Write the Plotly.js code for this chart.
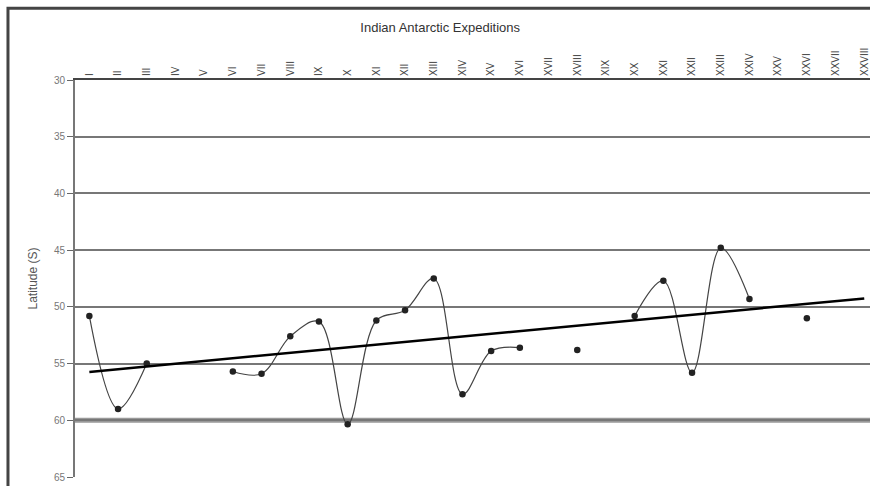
<!DOCTYPE html>
<html>
<head>
<meta charset="utf-8">
<script src="https://cdn.plot.ly/plotly-3.0.1.min.js"></script>
<style>
  html, body { margin: 0; padding: 0; background: #fff; overflow: hidden; }
  #chart { position: absolute; left: 0; top: 0; width: 870px; height: 486px; }
</style>
</head>
<body>
<div id="chart"></div>
<script>
const expeditions = ["I","II","III","IV","V","VI","VII","VIII","IX","X","XI","XII","XIII","XIV",
  "XV","XVI","XVII","XVIII","XIX","XX","XXI","XXII","XXIII","XXIV","XXV","XXVI","XXVII","XXVIII"];
const latitudes = [50.8, 59.0, 55.0, null, null, 55.7, 55.9, 52.6, 51.3, 60.35, 51.2, 50.3, 47.5, 57.7,
  53.9, 53.6, null, 53.8, null, 50.8, 47.7, 55.8, 44.8, 49.3, null, 51.0, null, null];
const yTicks = [30, 35, 40, 45, 50, 55, 60, 65];
const referenceLat = 60;

// linear trend (least squares over the observed expeditions, by expedition number)
const xs = [], ys = [];
latitudes.forEach((v, i) => { if (v !== null) { xs.push(i + 1); ys.push(v); } });
const n = xs.length;
const mx = xs.reduce((a, b) => a + b, 0) / n;
const my = ys.reduce((a, b) => a + b, 0) / n;
let sxy = 0, sxx = 0;
for (let i = 0; i < n; i++) { sxy += (xs[i] - mx) * (ys[i] - my); sxx += (xs[i] - mx) ** 2; }
const slope = sxy / sxx, intercept = my - slope * mx;
const trendX = [expeditions[0], expeditions[expeditions.length - 1]];
const trendY = [intercept + slope * 1, intercept + slope * expeditions.length];

const font = 'Arial, "Liberation Sans", sans-serif';

const data = [
  {
    x: expeditions, y: latitudes, type: 'scatter', mode: 'lines+markers',
    connectgaps: false, cliponaxis: false,
    line: { color: '#444', width: 1.2, shape: 'spline', smoothing: 1 },
    marker: { color: '#222', size: 6.5, symbol: 'circle' },
    showlegend: false
  },
  {
    x: trendX, y: trendY, type: 'scatter', mode: 'lines',
    line: { color: '#000', width: 2.5 }, hoverinfo: 'skip', showlegend: false
  }
];

const layout = {
  width: 870, height: 486,
  margin: { l: 75, r: 0, t: 79.5, b: 9 },
  paper_bgcolor: '#fff', plot_bgcolor: '#fff',
  title: {
    text: 'Indian Antarctic Expeditions',
    x: 0.506, xref: 'container', y: 0.944, yref: 'container', yanchor: 'middle',
    font: { family: font, size: 13, color: '#333' }
  },
  xaxis: {
    type: 'category', categoryorder: 'array', categoryarray: expeditions,
    side: 'top', range: [-0.5, 27.2],
    tickangle: -90, tickfont: { family: font, size: 10, color: '#444' },
    showgrid: false, showline: true, linecolor: '#444', linewidth: 2,
    ticks: '', zeroline: false
  },
  yaxis: {
    range: [65, 30], tickvals: yTicks,
    tickfont: { family: font, size: 10, color: '#777' },
    ticks: 'outside', ticklen: 6, tickcolor: '#666', tickwidth: 1,
    showline: true, linecolor: '#777', linewidth: 2,
    showgrid: true, gridcolor: '#777', gridwidth: 2, zeroline: false,
    title: { text: 'Latitude (S)', standoff: 14,
      font: { family: font, size: 12, color: '#555' } }
  },
  shapes: [
    { type: 'line', xref: 'paper', x0: 0, x1: 1, yref: 'y', y0: referenceLat, y1: referenceLat,
      line: { color: '#999', width: 5 }, layer: 'below' },
    // outer chart frame (left and top edges of the chart area)
    { type: 'path', xref: 'paper', yref: 'paper',
      path: 'M -0.0843,-0.1 L -0.0843,1.181 L 1.1,1.181',
      line: { color: '#444', width: 3 }, layer: 'above' }
  ]
};

Plotly.newPlot('chart', data, layout, { staticPlot: true, displayModeBar: false });
</script>
</body>
</html>
